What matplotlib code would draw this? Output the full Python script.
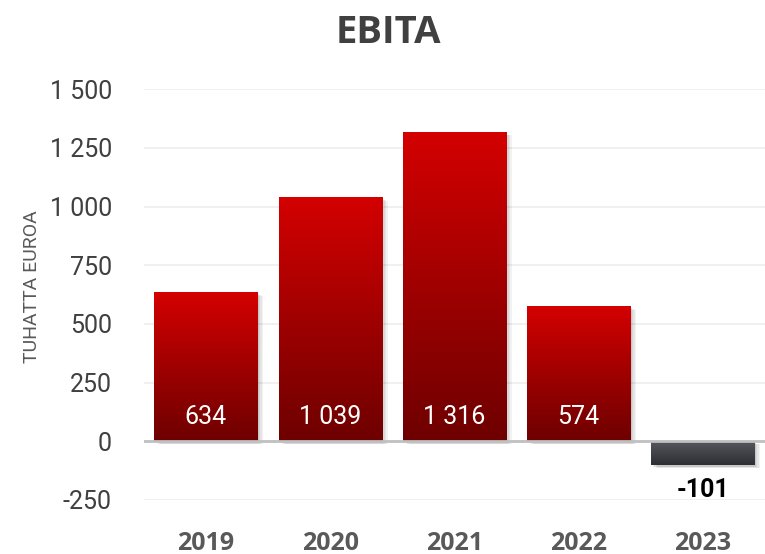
import numpy as np
import matplotlib
matplotlib.use('Agg')
import matplotlib.pyplot as plt
from matplotlib.colors import LinearSegmentedColormap
from matplotlib.patches import Rectangle
from matplotlib.ticker import FuncFormatter

years = ['2019', '2020', '2021', '2022', '2023']
ebita = [634, 1039, 1316, 574, -101]
labels = ['634', '1 039', '1 316', '574', '-101']

plt.rcParams['font.family'] = ['Roboto', 'DejaVu Sans']

fig = plt.figure(figsize=(7.65, 5.54), dpi=100)
ax = fig.add_axes([0.188, 0.0975, 0.812, 0.7415])

red = LinearSegmentedColormap.from_list('red', ['#6e0000', '#a00000', '#d40000'])
grey = LinearSegmentedColormap.from_list('grey', ['#2c2e33', '#55585e'])

width = 0.83
grad = np.linspace(0, 1, 256).reshape(-1, 1)
for i, v in enumerate(ebita):
    x0 = i - width / 2
    lo, hi = min(0, v), max(0, v)
    # soft drop shadow
    for k, a in enumerate([0.05, 0.05, 0.06, 0.07]):
        off = (4 - k) * 0.012
        ax.add_patch(Rectangle((x0 + off, lo - off * 150 - 6), width, hi - lo,
                               facecolor='black', alpha=a, edgecolor='none', zorder=2))
    cmap = red if v >= 0 else grey
    ax.imshow(grad, cmap=cmap, origin='lower', aspect='auto',
              extent=(x0, x0 + width, lo, hi), zorder=3, interpolation='bicubic')
    if v >= 0:
        ax.text(i, 105, labels[i], ha='center', va='center', color='white',
                fontsize=18, zorder=5)
    else:
        ax.text(i, v - 105, labels[i], ha='center', va='center', color='black',
                fontsize=18, fontweight='bold', zorder=5)

ax.set_xlim(-0.5, 4.5)
ax.set_ylim(-250, 1500)
ax.set_yticks(np.arange(-250, 1501, 250))
ax.yaxis.set_major_formatter(FuncFormatter(lambda y, p: f'{int(y):,}'.replace(',', ' ')))
ax.set_xticks(range(len(years)))
ax.set_xticklabels(years, fontweight='bold', color='#595959', fontsize=18,
                   family=['Open Sans', 'DejaVu Sans'])
ax.tick_params(axis='y', labelsize=18, labelcolor='#404040', length=0, pad=23)
ax.tick_params(axis='x', length=0, pad=22)
ax.grid(axis='y', color='#eeeeee', linewidth=1.2, zorder=0)
ax.set_axisbelow(True)
ax.axhline(0, color='#c0c0c0', linewidth=2, zorder=4)
for s in ax.spines.values():
    s.set_visible(False)

ax.set_ylabel('TUHATTA EUROA', fontsize=14, color='#595959')
ax.yaxis.set_label_coords(-0.165, 0.52)
fig.text(0.508, 0.94, 'EBITA', ha='center', va='center',
         fontsize=27.5, fontweight='bold', color='#404040', family=['Open Sans', 'DejaVu Sans'])

fig.savefig('out.png', dpi=100)
